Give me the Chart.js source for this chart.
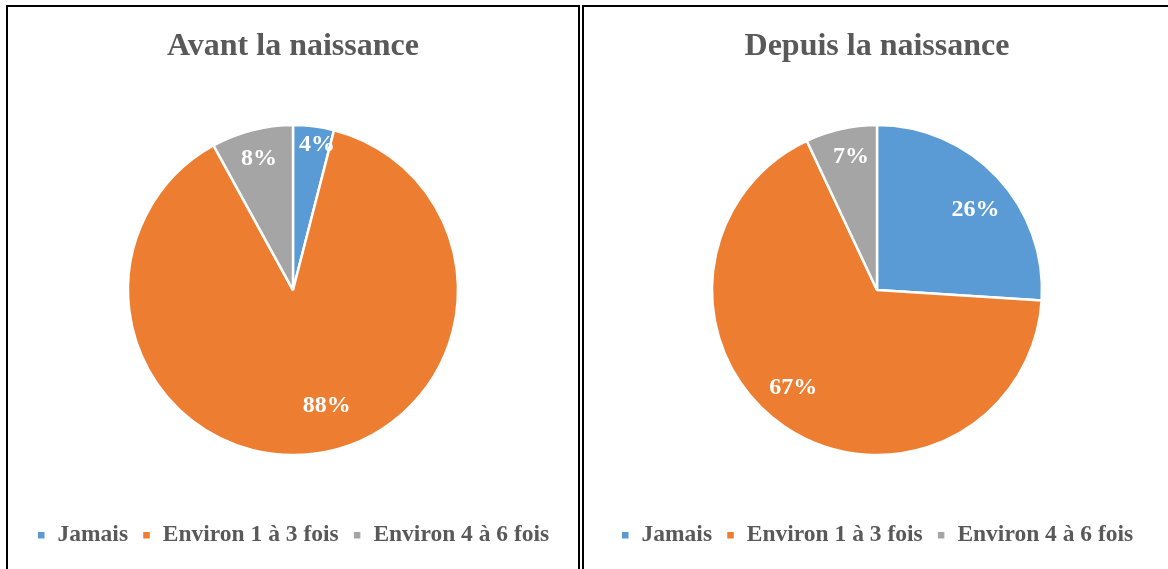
<!DOCTYPE html>
<html>
<head>
<meta charset="utf-8">
<script src="https://cdn.jsdelivr.net/npm/chart.js@4/dist/chart.umd.min.js"></script>
<style>
  html, body { margin: 0; padding: 0; background: #fff; overflow: hidden; }
  .panel { position: absolute; top: 5px; height: 600px; border: 2px solid #000; box-sizing: border-box; }
  #p1 { left: 6px; width: 574px; }
  #p2 { left: 582px; width: 590px; }
  canvas { display: block; }
</style>
</head>
<body>
<div class="panel" id="p1"><canvas id="chartAvant" width="570" height="562"></canvas></div>
<div class="panel" id="p2"><canvas id="chartDepuis" width="586" height="562"></canvas></div>
<script>
  // data
  const categories = ["Jamais", "Environ 1 à 3 fois", "Environ 4 à 6 fois"];
  const avantValues = [4, 88, 8];
  const depuisValues = [26, 67, 7];
  const titles = ["Avant la naissance", "Depuis la naissance"];
  const colors = ["#5B9BD5", "#ED7D31", "#A5A5A5"];

  const serif = "'Liberation Serif', 'Times New Roman', serif";

  // percent labels inside the slices (radius fraction + angle nudge in degrees)
  const pctLabels = {
    id: "pctLabels",
    afterDatasetsDraw(chart, args, opts) {
      const ctx = chart.ctx;
      const meta = chart.getDatasetMeta(0);
      const data = chart.data.datasets[0].data;
      const total = data.reduce((a, b) => a + b, 0);
      ctx.save();
      ctx.fillStyle = "#fff";
      ctx.font = "bold 24px " + serif;
      ctx.textAlign = "center";
      ctx.textBaseline = "middle";
      meta.data.forEach((arc, i) => {
        const mid = (arc.startAngle + arc.endAngle) / 2 + opts.nudge[i] * Math.PI / 180;
        const r = arc.outerRadius * opts.pos[i];
        const x = arc.x + Math.cos(mid) * r;
        const y = arc.y + Math.sin(mid) * r;
        ctx.fillText(Math.round(data[i] / total * 100) + "%", x, y);
      });
      ctx.restore();
    }
  };

  function makePie(id, title, values, labelPos, labelNudge) {
    const ctx = document.getElementById(id).getContext("2d");
    return new Chart(ctx, {
      type: "pie",
      data: {
        labels: categories,
        datasets: [{
          data: values,
          backgroundColor: colors,
          borderColor: "#fff",
          borderWidth: 2.5,
          radius: 165
        }]
      },
      options: {
        responsive: false,
        animation: false,
        layout: { padding: { bottom: 12 } },
        plugins: {
          title: {
            display: true,
            text: title,
            color: "#595959",
            font: { family: serif, size: 32, weight: "bold" },
            padding: { top: 21, bottom: 4.2 }
          },
          legend: {
            position: "bottom",
            labels: {
              color: "#595959",
              font: { family: serif, size: 23.5, weight: "bold" },
              boxWidth: 9,
              boxHeight: 9,
              padding: 14
            }
          },
          tooltip: { enabled: false },
          pctLabels: { pos: labelPos, nudge: labelNudge }
        }
      },
      plugins: [pctLabels]
    });
  }

  makePie("chartAvant", titles[0], avantValues, [0.89, 0.73, 0.82], [2.2, -9.1, -0.2]);
  makePie("chartDepuis", titles[1], depuisValues, [0.77, 0.78, 0.82], [4, 6.4, 1.5]);
</script>
</body>
</html>
